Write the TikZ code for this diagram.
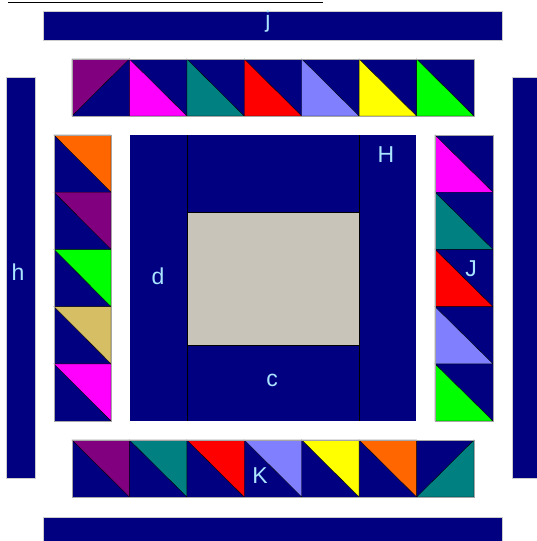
\documentclass[tikz,border=0pt]{standalone}
\usepackage{fontspec}
\setmainfont{Liberation Sans}
\usetikzlibrary{positioning}
\definecolor{quiltnavy}{RGB}{0,0,128}
\definecolor{quiltlabel}{RGB}{170,228,255}
\definecolor{quiltgray}{RGB}{200,196,186}
\definecolor{quiltorange}{RGB}{255,102,0}
\definecolor{quiltpurple}{RGB}{128,0,128}
\definecolor{quiltteal}{RGB}{0,128,128}
\definecolor{quiltlilac}{RGB}{128,128,255}
\definecolor{quilttan}{RGB}{213,190,100}
\definecolor{quiltmagenta}{RGB}{255,0,255}
\definecolor{quiltlime}{RGB}{0,255,0}
\definecolor{quiltyellow}{RGB}{255,255,0}
\definecolor{quiltred}{RGB}{255,0,0}
\tikzset{
  bar/.style={fill=quiltnavy, draw=gray!40, line width=0.4pt},
  strip/.style={draw=gray!70, line width=0.5pt},
  seam/.style={draw=black, line width=0.2pt},
  lab/.style={text=quiltlabel, font=\fontsize{11.5}{13}\selectfont, inner sep=0pt}
}

\begin{document}
\begin{tikzpicture}[x=0.5pt, y=-0.5pt]
			\useasboundingbox (0,0) rectangle (536,541);
			\fill[white] (0,0) rectangle (536,541);
			% underline of the clipped title
			\draw[black, line width=0.5pt] (8,2) -- (323,2);
			% outer bars
			\filldraw[bar] (43,11) rectangle (502,40);
			\filldraw[bar] (6,77) rectangle (35,478);
			\filldraw[bar] (512,77) rectangle (540,478);
			\filldraw[bar] (43,517) rectangle (502,545);
			% top strip: purple top-left, then bottom-left triangles
			\fill[quiltnavy] (72,59) rectangle (474,116);
			\filldraw[seam, fill=quiltpurple] (72,59) -- (129.4,59) -- (72,116) -- cycle;
			\foreach \c [count=\i] in {quiltmagenta, quiltteal, quiltred, quiltlilac, quiltyellow, quiltlime}
				\filldraw[seam, fill=\c] ({72+57.43*\i},59) -- ({72+57.43*\i},116) -- ({72+57.43*(\i+1)},116) -- cycle;
			\draw[strip] (72,59) rectangle (474,116);
			% left column: top-right triangles
			\fill[quiltnavy] (54,135) rectangle (111,421);
			\foreach \c [count=\i from 0] in {quiltorange, quiltpurple, quiltlime, quilttan, quiltmagenta}
				\filldraw[seam, fill=\c] (54,{135+57.2*\i}) -- (111,{135+57.2*\i}) -- (111,{135+57.2*(\i+1)}) -- cycle;
			\draw[strip] (54,135) rectangle (111,421);
			% right column: bottom-left triangles
			\fill[quiltnavy] (435,135) rectangle (493,421);
			\foreach \c [count=\i from 0] in {quiltmagenta, quiltteal, quiltred, quiltlilac, quiltlime}
				\filldraw[seam, fill=\c] (435,{135+57.2*\i}) -- (435,{135+57.2*(\i+1)}) -- (493,{135+57.2*(\i+1)}) -- cycle;
			\draw[strip] (435,135) rectangle (493,421);
			% bottom strip: top-right triangles, last one teal bottom-right
			\fill[quiltnavy] (72,440) rectangle (474,497);
			\foreach \c [count=\i from 0] in {quiltpurple, quiltteal, quiltred, quiltlilac, quiltyellow, quiltorange}
				\filldraw[seam, fill=\c] ({72+57.43*\i},440) -- ({72+57.43*(\i+1)},440) -- ({72+57.43*(\i+1)},497) -- cycle;
			\filldraw[seam, fill=quiltteal] (474,440) -- (474,497) -- (416.6,497) -- cycle;
			\draw[strip] (72,440) rectangle (474,497);
			% centre block
			\fill[quiltnavy] (130,135) rectangle (416,421);
			\draw[seam] (187,135) -- (187,421);
			\draw[seam] (359,135) -- (359,421);
			\filldraw[seam, fill=quiltgray] (187,212) rectangle (359,345);
			% labels
			\node[lab] (labj) at (268,22) {j};
			\node[lab] (labh) at (18,272) {h};
			\node[lab] (labd) at (158,276) {d};
			\node[lab] (labH) at (386,155) {H};
			\node[lab] (labc) at (272,380) {c};
			\node[lab] (labJ) at (471,269) {J};
			\node[lab] (labK) at (260,476) {K};
		\end{tikzpicture}
\end{document}
